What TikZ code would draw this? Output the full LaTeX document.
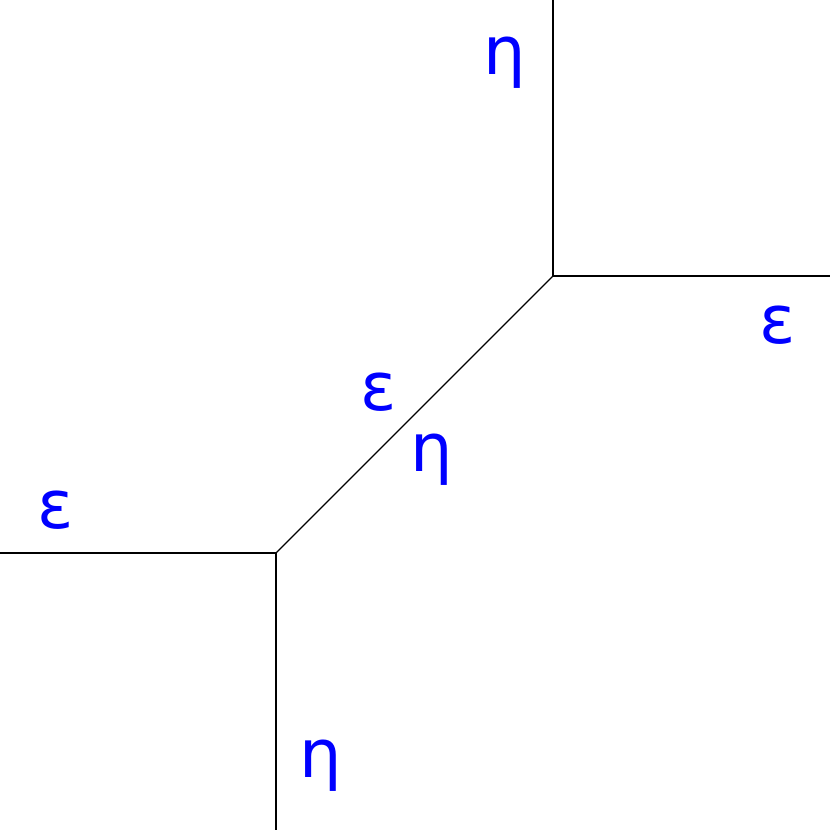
\documentclass[tikz,border=0pt]{standalone}
\usepackage{fontspec}
\newfontfamily\lblfont{DejaVu Sans}
\definecolor{lblblue}{RGB}{0,0,255}
\tikzset{lbl/.style={font=\lblfont\fontsize{67}{67}\selectfont, text=lblblue, inner sep=0pt, anchor=center},
  edge/.style={draw=black, line width=1.2pt}}
\begin{document}
\begin{tikzpicture}[x=1pt,y=-1pt]
\useasboundingbox (0,0) rectangle (830,830);
\coordinate (t) at (553,0);
\coordinate (a) at (553,276);
\coordinate (r) at (830,276);
\coordinate (b) at (276,553);
\coordinate (l) at (0,553);
\coordinate (d) at (276,830);
\draw[edge] (t) -- (a) -- (r);
\draw[edge] (a) -- (b);
\draw[edge] (l) -- (b) -- (d);
\node[lbl] (e1) at (505,63) {η};
\node[lbl] (e2) at (778,325) {ε};
\node[lbl] (e3) at (379,392) {ε};
\node[lbl] (e4) at (432,460) {η};
\node[lbl] (e5) at (56,510) {ε};
\node[lbl] (e6) at (321,766) {η};
\end{tikzpicture}
\end{document}
